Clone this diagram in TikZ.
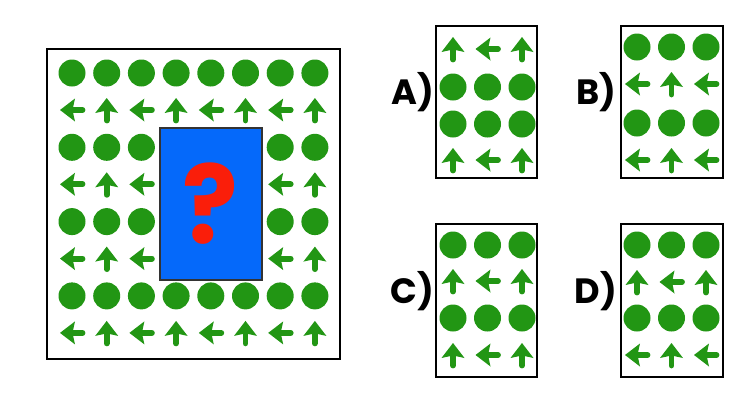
\documentclass[tikz,border=0pt]{standalone}
\usepackage{fontspec}
\newfontfamily\labelfont{Poppins}
\usetikzlibrary{positioning}
\definecolor{dotgreen}{RGB}{34,150,20}
\definecolor{boxblue}{RGB}{5,105,250}
\definecolor{qred}{RGB}{250,30,10}
\tikzset{
  frame box/.style={draw=black, line width=1.2pt, fill=white},
  hidden box/.style={draw=black!80, line width=0.9pt, fill=boxblue},
  cell dot/.style={fill=dotgreen},
  arrow head/.style={fill=dotgreen},
  arrow shaft/.style={draw=dotgreen, line width=3.3pt, line cap=round},
  option label/.style={font=\labelfont\bfseries\fontsize{20}{20}\selectfont, inner sep=0pt},
}
% one cell of the pattern: dot, up arrow, left arrow
\newcommand{\cellD}[1]{
  \fill[cell dot] #1 circle (13.5);
}
\newcommand{\cellU}[1]{
  \begin{scope}[shift={#1}]
    \draw[arrow shaft] (0,-1) -- (0,10.5);
    \fill[arrow head] (0,-12) -- (11.5,3) -- (0,0.5) -- (-11.5,3) -- cycle;
  \end{scope}
}
\newcommand{\cellL}[1]{
  \begin{scope}[shift={#1}, rotate=90]
    \draw[arrow shaft] (0,-1) -- (0,10.5);
    \fill[arrow head] (0,-12) -- (11.5,3) -- (0,0.5) -- (-11.5,3) -- cycle;
  \end{scope}
}
% a row of three cells in an answer panel
\newcommand{\drawRow}[3]{
  \foreach \kind [count=\k from 0] in {#3} {
    \csname cell\kind\endcsname{(#1+\k*34.5, #2)}
  }
}

\begin{document}
\begin{tikzpicture}[x=0.02cm, y=-0.02cm]
  \useasboundingbox (0,0) rectangle (741,400);

  % big puzzle
  \draw[frame box] (47,49) rectangle (340,359);
  \foreach \r in {0,1,2,3} {
    \foreach \c in {0,...,7} {
      \cellD{(72+\c*34.7, 73+\r*74.3)}
      \ifodd\c
        \cellU{(72+\c*34.7, 110+\r*74.3)}
      \else
        \cellL{(72+\c*34.7, 110+\r*74.3)}
      \fi
    }
  }
  \draw[hidden box] (160,128) rectangle (262,280);
  \node[text=qred, font=\labelfont\bfseries\fontsize{62}{62}\selectfont, inner sep=0pt] (qmark) at (210,204) {\scalebox{0.95}[1]{?}};

  % answer panels
  \draw[frame box] (436,26) rectangle (537,178);
  \node[option label] (labA) at (413,92) {A)};
  \drawRow{453}{49}{U,L,U}
  \drawRow{453}{87}{D,D,D}
  \drawRow{453}{124}{D,D,D}
  \drawRow{453}{160}{U,L,U}

  \draw[frame box] (621,26) rectangle (723,178);
  \node[option label] (labB) at (596,92) {B)};
  \drawRow{637}{47}{D,D,D}
  \drawRow{637}{84}{L,U,L}
  \drawRow{637}{123}{D,D,D}
  \drawRow{637}{160}{L,U,L}

  \draw[frame box] (436,224) rectangle (537,377);
  \node[option label] (labC) at (412,291) {C)};
  \drawRow{453}{245}{D,D,D}
  \drawRow{453}{281}{U,L,U}
  \drawRow{453}{318}{D,D,D}
  \drawRow{453}{355}{U,L,U}

  \draw[frame box] (621,224) rectangle (723,377);
  \node[option label] (labD) at (596,291) {D)};
  \drawRow{637}{245}{D,D,D}
  \drawRow{637}{282}{U,L,U}
  \drawRow{637}{318}{D,D,D}
  \drawRow{637}{355}{L,U,L}
\end{tikzpicture}
\end{document}
